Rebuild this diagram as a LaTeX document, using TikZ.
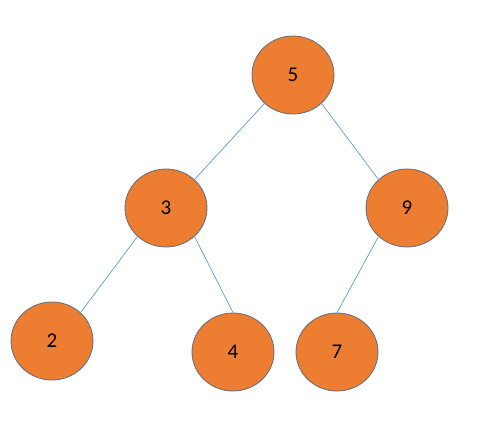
\documentclass[tikz,border=0pt]{standalone}
\usepackage{fontspec}
\setmainfont{Carlito}
\usetikzlibrary{shapes.geometric}
\definecolor{nodefill}{HTML}{ED7D31}
\definecolor{nodeline}{HTML}{5E6E80}
\definecolor{edgecol}{HTML}{5B9BD5}
\begin{document}
\begin{tikzpicture}[x=1pt,y=-1pt,
  treenode/.style={ellipse,draw=nodeline,line width=0.8pt,fill=nodefill,minimum width=82pt,minimum height=78pt,inner sep=0pt,font=\fontsize{21}{24}\selectfont,text=black},
  treeedge/.style={draw=edgecol,line width=0.7pt}]
\useasboundingbox (0,0) rectangle (494,441);
\node[treenode] (n5) at (293,75) {5};
\node[treenode] (n3) at (166,208) {3};
\node[treenode] (n9) at (407,208) {9};
\node[treenode] (n2) at (52,341) {2};
\node[treenode] (n4) at (233,352) {4};
\node[treenode] (n7) at (337,352) {7};
\draw[treeedge] (n5.225) -- (n3.45);
\draw[treeedge] (n5.315) -- (n9.135);
\draw[treeedge] (n3.225) -- (n2.45);
\draw[treeedge] (n3.315) -- (n4.north);
\draw[treeedge] (n9.225) -- (n7.north);
\end{tikzpicture}
\end{document}
